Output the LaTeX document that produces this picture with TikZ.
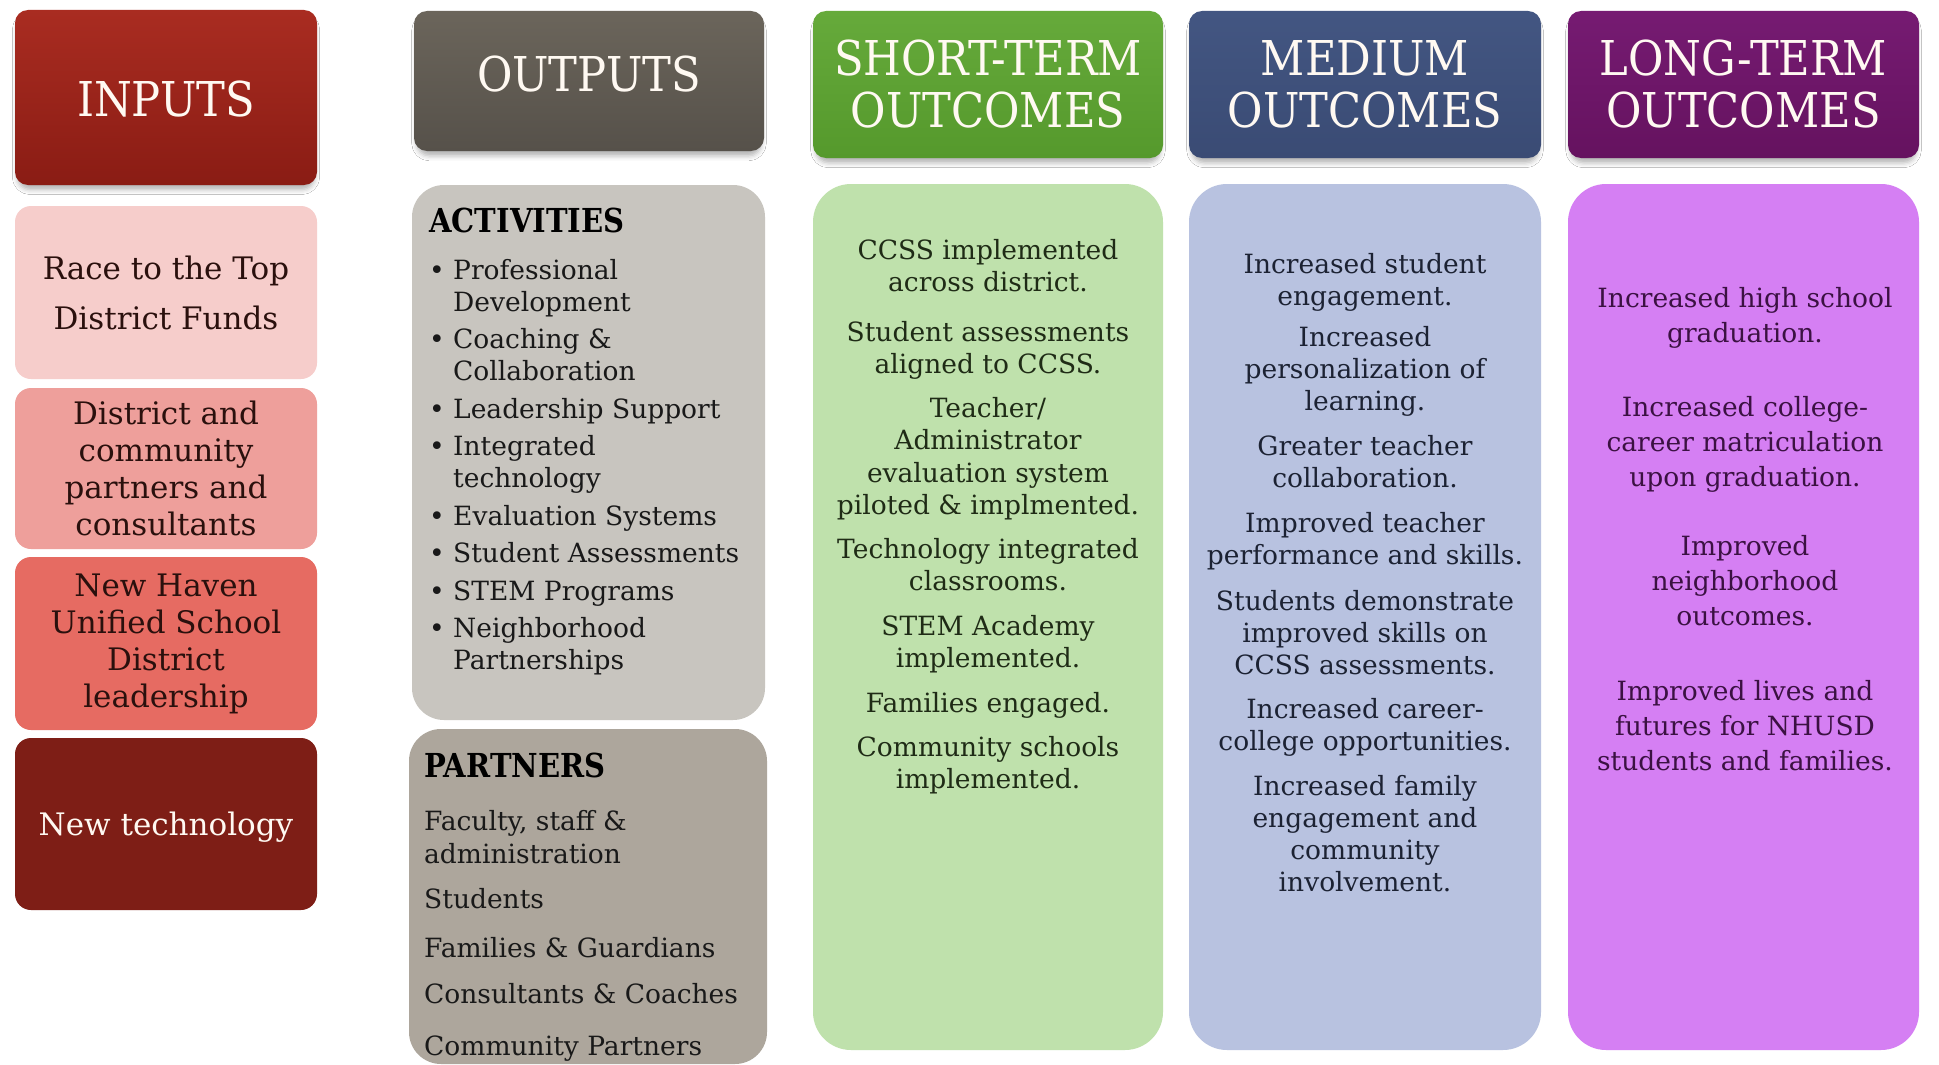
\documentclass[tikz,border=0pt]{standalone}
\usepackage{fontspec}
\setmainfont{DejaVu Serif}
\newfontfamily\headfont[FakeStretch=0.9]{DejaVu Serif}
\newfontfamily\labfont[FakeStretch=0.88]{DejaVu Serif}
\usetikzlibrary{shadows.blur}

% palette
\definecolor{inTop}{HTML}{A92C21}
\definecolor{inBot}{HTML}{8A1C14}
\definecolor{inA}{HTML}{F6CDCB}
\definecolor{inB}{HTML}{EE9F9B}
\definecolor{inC}{HTML}{E66B62}
\definecolor{inD}{HTML}{7E1E16}
\definecolor{inInk}{HTML}{2A100D}
\definecolor{outTop}{HTML}{6B655B}
\definecolor{outBot}{HTML}{56514A}
\definecolor{actFill}{HTML}{C8C5BF}
\definecolor{partFill}{HTML}{ADA69C}
\definecolor{stTop}{HTML}{66AA3B}
\definecolor{stBot}{HTML}{55992C}
\definecolor{stFill}{HTML}{BFE1AC}
\definecolor{stInk}{HTML}{1F2B16}
\definecolor{mdTop}{HTML}{435682}
\definecolor{mdBot}{HTML}{3A4B74}
\definecolor{mdFill}{HTML}{B8C2E0}
\definecolor{mdInk}{HTML}{1C2233}
\definecolor{ltTop}{HTML}{761B72}
\definecolor{ltBot}{HTML}{65125F}
\definecolor{ltFill}{HTML}{D57FF3}
\definecolor{ltInk}{HTML}{3B1142}
\definecolor{hdrInk}{HTML}{FFF9F2}

\newcommand{\stack}[1]{\begin{tabular}[t]{@{}c@{}}#1\end{tabular}}
\newcommand{\bul}{\makebox[25pt][l]{\hspace{1pt}\textbullet}}
% single line whose baseline sits a given distance below the node centre
\newcommand{\atbase}[2]{\raisebox{-#1}[0pt][0pt]{#2}}

\tikzset{
  hdr/.style={rounded corners=13pt, inner sep=0, align=center, text=hdrInk,
    font=\headfont\fontsize{48}{52}\selectfont,
    blur shadow={shadow xshift=0pt, shadow yshift=-6pt, shadow scale=0.985,
      shadow blur radius=5pt, shadow opacity=30}},
  inbox/.style={rounded corners=16pt, inner sep=0, align=center, minimum width=302pt,
    text=inInk, font=\fontsize{31}{37}\selectfont},
  colbox/.style={rounded corners=38pt, inner sep=0},
  stext/.style={inner sep=0, anchor=base, text=stInk, font=\fontsize{26.5}{32.5}\selectfont},
  mtext/.style={inner sep=0, anchor=base, text=mdInk, font=\fontsize{26.5}{32}\selectfont},
  ltext/.style={inner sep=0, anchor=base, text=ltInk, font=\fontsize{26.5}{35}\selectfont},
  listtext/.style={inner sep=0, anchor=base west, text=black!90},
  listhead/.style={inner sep=0, anchor=base west, text=black, font=\labfont\bfseries\fontsize{33}{36}\selectfont},
}

\begin{document}
\begin{tikzpicture}[x=1pt,y=-1pt]
\clip (0,0) rectangle (1939,1065);
\fill[white] (0,0) rectangle (1939,1065);

% ---------- inputs ----------
\node[hdr, top color=inTop, bottom color=inBot, minimum width=302pt, minimum height=175pt] (inh) at (166,97.5) {\atbase{19.5pt}{INPUTS}};
\node[inbox, fill=inA, minimum height=173pt, font=\fontsize{31}{50}\selectfont] (in1) at (166,292.5) {Race to the Top\\District Funds};
\node[inbox, fill=inB, minimum height=161pt] (in2) at (166,468.5) {District and\\community\\partners and\\consultants};
\node[inbox, fill=inC, minimum height=173pt] (in3) at (166,643.5) {New Haven\\Unified School\\District\\leadership};
\node[inbox, fill=inD, minimum height=172pt, text=hdrInk] (in4) at (166,824) {\atbase{11pt}{New technology}};

% ---------- outputs ----------
\node[hdr, top color=outTop, bottom color=outBot, minimum width=350pt, minimum height=140pt] (outh) at (589,81) {\atbase{11pt}{OUTPUTS}};
\node[colbox, fill=actFill, minimum width=353pt, minimum height=535pt, rounded corners=32pt] (act) at (588.5,452.5) {};
\node[colbox, fill=partFill, minimum width=358pt, minimum height=335pt, rounded corners=32pt] (part) at (588,896.5) {};

\node[listhead] (acth) at (429,232) {ACTIVITIES};
\node[listtext, font=\fontsize{26.5}{32}\selectfont] (actlist) at (428,279) {%
\begin{tabular}[t]{@{}l@{}l@{}}
\bul & Professional\\ & Development\\[5.5pt]
\bul & Coaching \&\\ & Collaboration\\[5.5pt]
\bul & Leadership Support\\[5.5pt]
\bul & Integrated\\ & technology\\[5.5pt]
\bul & Evaluation Systems\\[5.5pt]
\bul & Student Assessments\\[5.5pt]
\bul & STEM Programs\\[5.5pt]
\bul & Neighborhood\\ & Partnerships
\end{tabular}};

\node[listhead] (parth) at (424,777) {PARTNERS};
\node[listtext, font=\fontsize{26.5}{33}\selectfont] (partlist) at (424,830) {%
\begin{tabular}[t]{@{}l@{}}
Faculty, staff \&\\ administration\\[12pt]
Students\\[16pt]
Families \& Guardians\\[13pt]
Consultants \& Coaches\\[19pt]
Community Partners
\end{tabular}};

% ---------- short-term outcomes ----------
\node[hdr, top color=stTop, bottom color=stBot, minimum width=350pt, minimum height=147pt] (sth) at (988,84.5) {SHORT-TERM\\OUTCOMES};
\node[colbox, fill=stFill, minimum width=350pt, minimum height=866pt] (stc) at (988,617) {};
\node[stext] (s1) at (988,259) {\stack{CCSS implemented\\across district.}};
\node[stext] (s2) at (988,341) {\stack{Student assessments\\aligned to CCSS.}};
\node[stext] (s3) at (988,417) {\stack{Teacher/\\Administrator\\evaluation system\\piloted \& implmented.}};
\node[stext] (s4) at (988,558) {\stack{Technology integrated\\classrooms.}};
\node[stext] (s5) at (988,635) {\stack{STEM Academy\\implemented.}};
\node[stext] (s6) at (988,712) {Families engaged.};
\node[stext] (s7) at (988,756) {\stack{Community schools\\implemented.}};

% ---------- medium outcomes ----------
\node[hdr, top color=mdTop, bottom color=mdBot, minimum width=352pt, minimum height=147pt] (mdh) at (1365,84.5) {MEDIUM\\OUTCOMES};
\node[colbox, fill=mdFill, minimum width=352pt, minimum height=866pt] (mdc) at (1365,617) {};
\node[mtext] (m1) at (1365,273) {\stack{Increased student\\engagement.}};
\node[mtext] (m2) at (1365,346) {\stack{Increased\\personalization of\\learning.}};
\node[mtext] (m3) at (1365,455) {\stack{Greater teacher\\collaboration.}};
\node[mtext] (m4) at (1365,532) {\stack{Improved teacher\\performance and skills.}};
\node[mtext] (m5) at (1365,610) {\stack{Students demonstrate\\improved skills on\\CCSS assessments.}};
\node[mtext] (m6) at (1365,718) {\stack{Increased career-\\college opportunities.}};
\node[mtext] (m7) at (1365,795) {\stack{Increased family\\engagement and\\community\\involvement.}};

% ---------- long-term outcomes ----------
\node[hdr, top color=ltTop, bottom color=ltBot, minimum width=351pt, minimum height=147pt] (lth) at (1743.5,84.5) {LONG-TERM\\OUTCOMES};
\node[colbox, fill=ltFill, minimum width=351pt, minimum height=866pt] (ltc) at (1743.5,617) {};
\node[ltext] (l1) at (1745,307) {\stack{Increased high school\\graduation.}};
\node[ltext] (l2) at (1745,416) {\stack{Increased college-\\career matriculation\\upon graduation.}};
\node[ltext] (l3) at (1745,555) {\stack{Improved\\neighborhood\\outcomes.}};
\node[ltext] (l4) at (1745,700) {\stack{Improved lives and\\futures for NHUSD\\students and families.}};
\end{tikzpicture}
\end{document}
